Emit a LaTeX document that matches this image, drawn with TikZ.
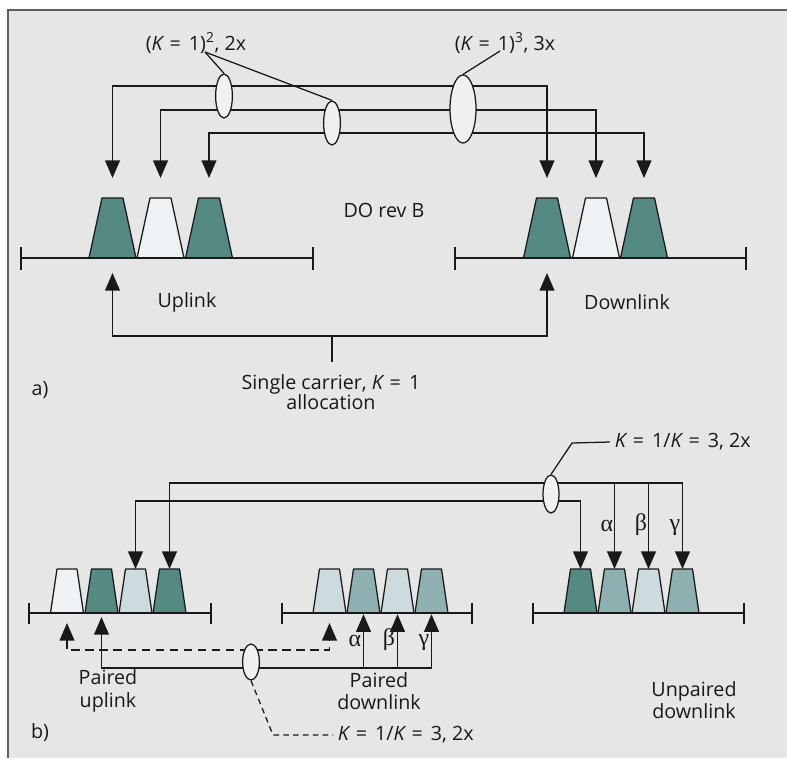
\documentclass[tikz,border=0pt]{standalone}
\usepackage{fontspec}
\setmainfont{Open Sans}
\newfontfamily\greekfont{Liberation Serif}
\usetikzlibrary{arrows.meta,shapes.geometric}

\definecolor{panelgray}{RGB}{230,230,230}
\definecolor{framegray}{RGB}{95,95,95}
\definecolor{inkgray}{RGB}{25,25,25}
\definecolor{tealdark}{RGB}{84,138,130}
\definecolor{tealmid}{RGB}{143,176,176}
\definecolor{tealpale}{RGB}{205,218,222}
\definecolor{tealwhite}{RGB}{238,242,245}
\definecolor{bundlefill}{RGB}{240,240,240}

\begin{document}
\begin{tikzpicture}[
  x=0.025cm, y=-0.025cm,
  >={Triangle[width=10.5pt,length=12.5pt]},
  every node/.style={font=\fontsize{14}{16}\selectfont, text=inkgray},
  carrier/.style={draw=inkgray, line width=0.9pt, line join=round},
  band/.style={draw=inkgray, line width=1.1pt},
  feed/.style={draw=inkgray, line width=1.1pt},
  bundle/.style={ellipse, draw=inkgray, fill=bundlefill, line width=0.9pt, inner sep=0pt},
  leader/.style={draw=inkgray, line width=0.9pt},
  greek/.style={font=\greekfont\fontsize{17}{17}\selectfont}
]
  \useasboundingbox (0,0) rectangle (787,758);

  % panel with a frame on the top and left edges
  \fill[panelgray] (8,10) rectangle (787,758);
  \draw[framegray, line width=1.5pt] (8,758) -- (8,10) -- (787,10);

  % ---------------- a) DO rev B ----------------
  % carriers: bottom 47 wide, top 21 wide, 60 high
  \foreach \n/\x/\c in {ul1/112.5/tealdark, ul2/160.5/tealwhite, ul3/209/tealdark,
                        dl1/547/tealdark, dl2/596/tealwhite, dl3/644/tealdark} {
    \draw[carrier, fill=\c] (\x-23.5,258) -- (\x-10.5,198) -- (\x+10.5,198)
      -- (\x+23.5,258) -- cycle;
    \coordinate (\n) at (\x,198);
    \coordinate (\n b) at (\x,258);
  }

  % frequency bands
  \draw[band] (21,258) -- (313,258);
  \draw[band] (21,247) -- (21,270);
  \draw[band] (313,247) -- (313,270);
  \draw[band] (455,258) -- (746,258);
  \draw[band] (455,247) -- (455,270);
  \draw[band] (746,247) -- (746,270);

  % multicarrier assignments from above
  \draw[feed, <->, shorten <=0.5cm, shorten >=0.5cm] (ul1) -- ++(0,-112) -| (dl1);
  \draw[feed, <->, shorten <=0.5cm, shorten >=0.5cm] (ul2) -- ++(0,-88) -| (dl2);
  \draw[feed, <->, shorten <=0.5cm, shorten >=0.5cm] (ul3) -- ++(0,-65) -| (dl3);

  \node[bundle, minimum width=0.42cm, minimum height=1.1cm] (ea) at (224,96) {};
  \node[bundle, minimum width=0.42cm, minimum height=1.1cm] (eb) at (332,123) {};
  \node[bundle, minimum width=0.65cm, minimum height=1.7cm] (ec) at (463,109) {};

  \node (ksq) at (196,43) {(\textit{K} = \hspace{0.15em}1)\textsuperscript{2}, 2x};
  \node (kcu) at (505,43) {(\textit{K} = \hspace{0.15em}1)\textsuperscript{3}, 3x};
  \coordinate (ksq tip) at (205,52);
  \coordinate (kcu tip) at (500,51);
  \draw[leader] (ksq tip) -- (ea.north);
  \draw[leader] (ksq tip) -- (eb.north);
  \draw[leader] (kcu tip) -- (ec.north);

  \node (rev) at (384,210) {DO rev B};

  % single carrier from below
  \coordinate (sc) at (332,362);
  \draw[feed, ->, shorten >=0.375cm] (sc) -- ++(0,-26) -| (ul1b);
  \draw[feed, ->, shorten >=0.375cm] (sc) -- ++(0,-26) -| (dl1b);

  \node (up) at (187,302) {Uplink};
  \node (down) at (627,302) {Downlink};
  \node[align=center, font=\fontsize{14}{14}\selectfont] (single) at (331,392)
    {Single carrier, \textit{K} = \hspace{0.15em}1\\allocation};
  \node (pa) at (40,390) {a)};

  % ---------------- b) paired / unpaired ----------------
  % carriers: bottom 33 wide, top 20 wide, 44 high
  \foreach \n/\x/\c in {pu1/67/tealwhite, pu2/101.5/tealdark, pu3/135.5/tealpale, pu4/169.5/tealdark,
                        pd1/329.5/tealpale, pd2/363.5/tealmid, pd3/397.5/tealpale, pd4/431.5/tealmid,
                        uu1/580.5/tealdark, uu2/614.5/tealmid, uu3/648.5/tealpale, uu4/682.5/tealmid} {
    \draw[carrier, fill=\c] (\x-16.5,613) -- (\x-10,569) -- (\x+10,569)
      -- (\x+16.5,613) -- cycle;
    \coordinate (\n) at (\x,569);
    \coordinate (\n b) at (\x,613);
  }

  \draw[band] (29,613) -- (211,613);
  \draw[band] (29,602.5) -- (29,623.5);
  \draw[band] (211,602.5) -- (211,623.5);
  \draw[band] (282,613) -- (472,613);
  \draw[band] (282,602.5) -- (282,623.5);
  \draw[band] (472,602.5) -- (472,623.5);
  \draw[band] (533,613) -- (744,613);
  \draw[band] (533,602.5) -- (533,623.5);
  \draw[band] (744,602.5) -- (744,623.5);

  % unpaired downlink fed from the uplink side
  \draw[feed, <->] (pu4) -- ++(0,-86) -| (uu4);
  \draw[feed, ->] (uu2) ++(0,-86) -- (uu2);
  \draw[feed, ->] (uu3) ++(0,-86) -- (uu3);
  \draw[feed, <->] (pu3) -- ++(0,-68) -| (uu1);

  \node[bundle, minimum width=0.4cm, minimum height=0.95cm] (ed) at (551,494) {};
  \node[anchor=west] (kun) at (610,442) {\textit{K} = \hspace{0.15em}1/\textit{K} = \hspace{0.15em}3, 2x};
  \coordinate (kun bend) at (572,443);
  \draw[leader] (ed.north) -- (kun bend) -- (kun.west);

  \node[greek] (ua) at (607,526) {α};
  \node[greek] (ub) at (641,525) {β};
  \node[greek] (ug) at (675,528) {γ};

  % paired carriers fed from below
  \draw[feed, dashed, dash pattern=on 6pt off 4pt, <->, shorten <=0.25cm, shorten >=0.25cm]
    (pu1b) -- ++(0,37) -| (pd1b);
  \draw[feed, <->, shorten <=0.1cm, shorten >=0.03cm] (pu2b) -- ++(0,55) -| (pd4b);
  \draw[feed, ->, shorten >=0.03cm] (pd2b) ++(0,55) -- (pd2b);
  \draw[feed, ->, shorten >=0.03cm] (pd3b) ++(0,55) -- (pd3b);

  \node[bundle, minimum width=0.42cm, minimum height=0.9cm] (ee) at (251,662) {};
  \node[anchor=west] (kpa) at (333,735) {\textit{K} = \hspace{0.15em}1/\textit{K} = \hspace{0.15em}3, 2x};
  \coordinate (kpa bend) at (273,735);
  \draw[leader, dashed, dash pattern=on 4pt off 3pt] (ee.south) -- (kpa bend) -- (kpa.west);

  \node[greek] (pa a) at (355,641) {α};
  \node[greek] (pa b) at (389,640) {β};
  \node[greek] (pa g) at (424,643) {γ};

  \node[align=center] (pup) at (108,691) {Paired\\uplink};
  \node[align=center] (pdown) at (379,691) {Paired\\downlink};
  \node[align=center] (udown) at (694,700) {Unpaired\\downlink};
  \node (pb) at (40,733) {b)};

\end{tikzpicture}
\end{document}
